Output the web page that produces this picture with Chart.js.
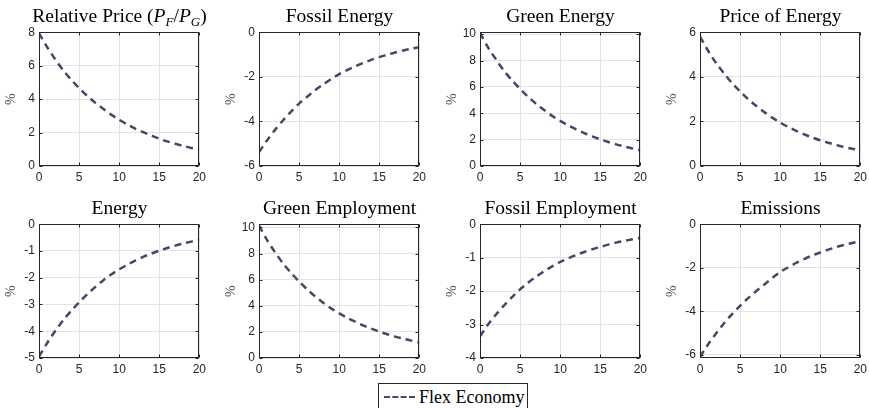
<!DOCTYPE html>
<html>
<head>
<meta charset="utf-8">
<script src="https://cdn.jsdelivr.net/npm/chart.js@4.4.1/dist/chart.umd.min.js"></script>
<style>
  body { margin: 0; background: #fff; width: 869px; height: 408px; overflow: hidden; position: relative; font-family: "Liberation Serif", serif; }
  canvas.panel { position: absolute; }
  .ttl { position: absolute; width: 240px; text-align: center; font-size: 19.5px; line-height: 19px; color: #000; white-space: nowrap; }
  .ttl sub { font-size: 13px; vertical-align: -4px; line-height: 0; }
  #legend { position: absolute; left: 378px; top: 383px; width: 148px; height: 30px; border: 1px solid #262626; background: #fff; }
  #legend .sample { position: absolute; left: 5px; top: 12px; width: 31px; border-top: 2.5px dashed #464666; }
  #legend .lbl { position: absolute; left: 40px; top: 4px; font-size: 18px; line-height: 18px; white-space: nowrap; }
</style>
</head>
<body>
<div id="legend"><div class="sample"></div><div class="lbl">Flex Economy</div></div>
<script>
// horizon (quarters)
const periods = [0, 1, 2, 3, 4, 5, 6, 7, 8, 9, 10, 11, 12, 13, 14, 15, 16, 17, 18, 19, 20];
const xTicks = [0, 5, 10, 15, 20];

// impulse responses, % deviation
const relPrice   = [7.95, 7.12, 6.4, 5.74, 5.17, 4.66, 4.2, 3.79, 3.42, 3.07, 2.76, 2.49, 2.24, 2.02, 1.82, 1.63, 1.47, 1.33, 1.2, 1.08, 0.98];
const fossilEn   = [-5.38, -4.85, -4.38, -3.95, -3.56, -3.2, -2.9, -2.6, -2.35, -2.1, -1.88, -1.7, -1.53, -1.38, -1.24, -1.12, -1.01, -0.91, -0.82, -0.74, -0.67];
const greenEn    = [10.1, 9.0, 8.08, 7.22, 6.5, 5.85, 5.25, 4.72, 4.25, 3.8, 3.42, 3.08, 2.78, 2.5, 2.25, 2.02, 1.82, 1.64, 1.48, 1.33, 1.2];
const priceEn    = [5.8, 5.17, 4.62, 4.15, 3.72, 3.35, 3.0, 2.7, 2.42, 2.17, 1.95, 1.75, 1.58, 1.42, 1.28, 1.15, 1.04, 0.94, 0.85, 0.77, 0.7];
const energy     = [-4.95, -4.45, -4.0, -3.6, -3.24, -2.92, -2.62, -2.35, -2.1, -1.88, -1.69, -1.52, -1.36, -1.22, -1.1, -0.99, -0.89, -0.8, -0.72, -0.65, -0.58];
const greenEmp   = [10.15, 9.05, 8.1, 7.25, 6.52, 5.86, 5.26, 4.72, 4.24, 3.8, 3.42, 3.08, 2.78, 2.5, 2.25, 2.02, 1.82, 1.64, 1.48, 1.33, 1.2];
const fossilEmp  = [-3.35, -3.0, -2.7, -2.43, -2.18, -1.95, -1.75, -1.57, -1.41, -1.26, -1.13, -1.02, -0.92, -0.83, -0.75, -0.68, -0.61, -0.55, -0.5, -0.45, -0.41];
const emissions  = [-6.1, -5.53, -5.02, -4.55, -4.13, -3.75, -3.4, -3.08, -2.78, -2.48, -2.2, -1.98, -1.78, -1.6, -1.44, -1.3, -1.17, -1.05, -0.95, -0.86, -0.78];

// y ticks per panel
const ticksRelPrice  = [0, 2, 4, 6, 8];
const ticksFossilEn  = [-6, -4, -2, 0];
const ticksGreenEn   = [0, 2, 4, 6, 8, 10];
const ticksPriceEn   = [0, 2, 4, 6];
const ticksEnergy    = [-5, -4, -3, -2, -1, 0];
const ticksGreenEmp  = [0, 2, 4, 6, 8, 10];
const ticksFossilEmp = [-4, -3, -2, -1, 0];
const ticksEmissions = [-6, -4, -2, 0];

const panels = [
  { title: 'Relative Price (<i>P<sub>F</sub></i>/<i>P<sub>G</sub></i>)', data: relPrice, min: 0, max: 8, ticks: ticksRelPrice },
  { title: 'Fossil Energy', data: fossilEn, min: -6, max: 0, ticks: ticksFossilEn },
  { title: 'Green Energy', data: greenEn, min: 0, max: 10.15, ticks: ticksGreenEn },
  { title: 'Price of Energy', data: priceEn, min: 0, max: 6, ticks: ticksPriceEn },
  { title: 'Energy', data: energy, min: -5, max: 0, ticks: ticksEnergy },
  { title: 'Green Employment', data: greenEmp, min: 0, max: 10.25, ticks: ticksGreenEmp },
  { title: 'Fossil Employment', data: fossilEmp, min: -4, max: 0, ticks: ticksFossilEmp },
  { title: 'Emissions', data: emissions, min: -6.15, max: 0, ticks: ticksEmissions }
];

// plot box geometry
const colLeft = [39, 259, 480, 700];
const rowTop = [31, 223];
const titleTop = [6, 198];
const plotW = 161, plotH = 135;
const padL = 39, padT = 10, padR = 10, padB = 22;

const lineColor = '#464666';
const axisColor = '#262626';

// box around the axes + inward tick marks (MATLAB look)
const frame = {
  id: 'frame',
  afterDraw(chart) {
    const { ctx, chartArea: a, scales: { x, y } } = chart;
    const l = Math.round(a.left) + 0.5, r = Math.round(a.right) - 0.5;
    const t = Math.round(a.top) + 0.5, b = Math.round(a.bottom) - 0.5;
    ctx.save();
    ctx.strokeStyle = axisColor;
    ctx.lineWidth = 1;
    ctx.strokeRect(l, t, r - l, b - t);
    ctx.beginPath();
    x.ticks.forEach(tk => {
      const px = Math.round(x.getPixelForValue(tk.value)) + 0.5;
      ctx.moveTo(px, b); ctx.lineTo(px, b - 3);
      ctx.moveTo(px, t); ctx.lineTo(px, t + 3);
    });
    y.ticks.forEach(tk => {
      const py = Math.round(y.getPixelForValue(tk.value)) + 0.5;
      ctx.moveTo(l, py); ctx.lineTo(l + 3, py);
      ctx.moveTo(r, py); ctx.lineTo(r - 3, py);
    });
    ctx.stroke();
    ctx.restore();
  }
};

const tickFont = { family: '"Liberation Sans", Arial, sans-serif', size: 12 };

panels.forEach((p, i) => {
  const col = i % 4, row = Math.floor(i / 4);
  const left = colLeft[col], top = rowTop[row];

  const cv = document.createElement('canvas');
  cv.className = 'panel';
  cv.width = padL + plotW + padR;
  cv.height = padT + plotH + padB;
  cv.style.left = (left - padL) + 'px';
  cv.style.top = (top - padT) + 'px';
  cv.style.width = cv.width + 'px';
  cv.style.height = cv.height + 'px';
  document.body.appendChild(cv);

  const ttl = document.createElement('div');
  ttl.className = 'ttl';
  ttl.innerHTML = p.title;
  ttl.style.left = (left + plotW / 2 - 120) + 'px';
  ttl.style.top = titleTop[row] + 'px';
  document.body.appendChild(ttl);

  new Chart(cv, {
    type: 'line',
    data: {
      labels: periods,
      datasets: [{
        label: 'Flex Economy',
        data: periods.map((t, k) => ({ x: t, y: p.data[k] })),
        borderColor: lineColor,
        borderWidth: 2.5,
        borderDash: [7, 5],
        pointRadius: 0,
        tension: 0.3,
        fill: false
      }]
    },
    options: {
      responsive: false,
      animation: false,
      devicePixelRatio: 1,
      layout: { padding: { left: 0, top: padT, right: padR, bottom: 0 } },
      plugins: { legend: { display: false }, tooltip: { enabled: false }, title: { display: false } },
      scales: {
        x: {
          type: 'linear',
          min: 0, max: 20,
          afterBuildTicks: s => { s.ticks = xTicks.map(v => ({ value: v })); },
          afterFit: s => { s.height = padB; },
          grid: { color: '#e3e3e3', drawTicks: false },
          border: { display: false },
          ticks: { font: tickFont, color: axisColor, padding: 4, maxRotation: 0 }
        },
        y: {
          min: p.min, max: p.max,
          afterBuildTicks: s => { s.ticks = p.ticks.map(v => ({ value: v })); },
          afterFit: s => { s.width = padL; },
          grid: { color: '#e3e3e3', drawTicks: false },
          border: { display: false },
          ticks: { font: tickFont, color: axisColor, padding: 4 },
          title: {
            display: true,
            text: '%',
            color: '#555',
            font: { family: '"Liberation Serif", serif', size: 14 },
            padding: { top: 3, bottom: 0 }
          }
        }
      }
    },
    plugins: [frame]
  });
});
</script>
</body>
</html>
